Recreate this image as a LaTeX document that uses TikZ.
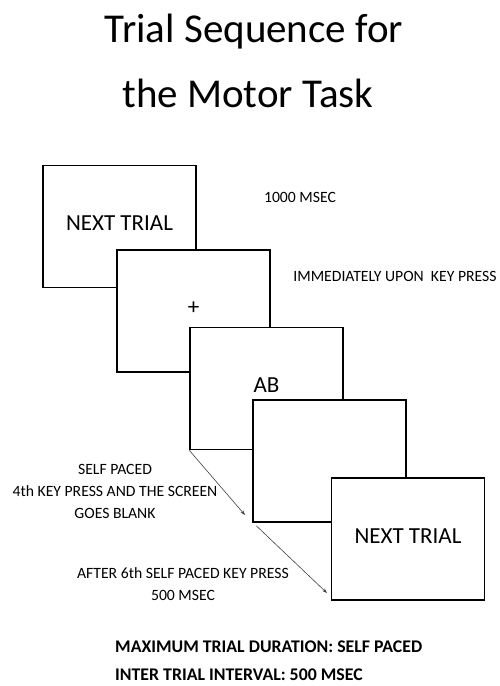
\documentclass[tikz,border=0pt]{standalone}
\usepackage{fontspec}
\setmainfont{Carlito}
\usetikzlibrary{arrows.meta,positioning}

\tikzset{
  screen/.style={draw,fill=white,line width=1.5pt,minimum width=153pt,minimum height=122pt,inner sep=0pt,text depth=6pt,font=\fontsize{23}{23}\selectfont},
  note/.style={font=\fontsize{15.7}{22}\selectfont,align=center,inner sep=0pt},
  summary/.style={font=\fontsize{17.8}{22}\selectfont\bfseries,anchor=base west,inner sep=0pt},
  timeline/.style={-{Stealth[length=5pt,width=3.5pt]},line width=0.6pt,black!75}
}

\begin{document}
\begin{tikzpicture}[x=1pt,y=-1pt]
    \useasboundingbox (0,0) rectangle (499,686);
    % title
    \node[font=\fontsize{41}{41}\selectfont,anchor=base] (title) at (254,42) {Trial Sequence for};
    \node[font=\fontsize{41}{41}\selectfont,anchor=base] (subtitle) at (248,107) {the Motor Task};
    % screens, back to front
    \node[screen] (s1) at (119.5,226.5) {NEXT TRIAL};
    \node[screen] (s2) at (193.5,311) {+};
    \node[screen] (s3) at (266.5,388.5) {AB};
    \node[screen] (s4) at (329.5,461) {};
    \node[screen] (s5) at (408,539) {NEXT TRIAL};
    % timing notes
    \node[note] (t1) at (300,197) {1000 MSEC};
    \node[note] (t2) at (395,276) {IMMEDIATELY UPON~~KEY PRESS};
    \node[note] (t3) at (115,491) {SELF PACED\\4th KEY PRESS AND THE SCREEN\\GOES BLANK};
    \node[note] (t4) at (183,584.5) {AFTER 6th SELF PACED KEY PRESS\\500 MSEC};
    \coordinate (e1) at (245,515);
    \coordinate (e2) at (327,593);
    \draw[timeline] (s3.south west) -- (e1);
    \draw[timeline] ([shift={(4,3)}]s4.south west) -- (e2);
    % summary
    \node[summary] (m1) at (115,652) {MAXIMUM TRIAL DURATION: SELF PACED};
    \node[summary] (m2) at (115,680) {INTER TRIAL INTERVAL: 500 MSEC};
  \end{tikzpicture}
\end{document}
